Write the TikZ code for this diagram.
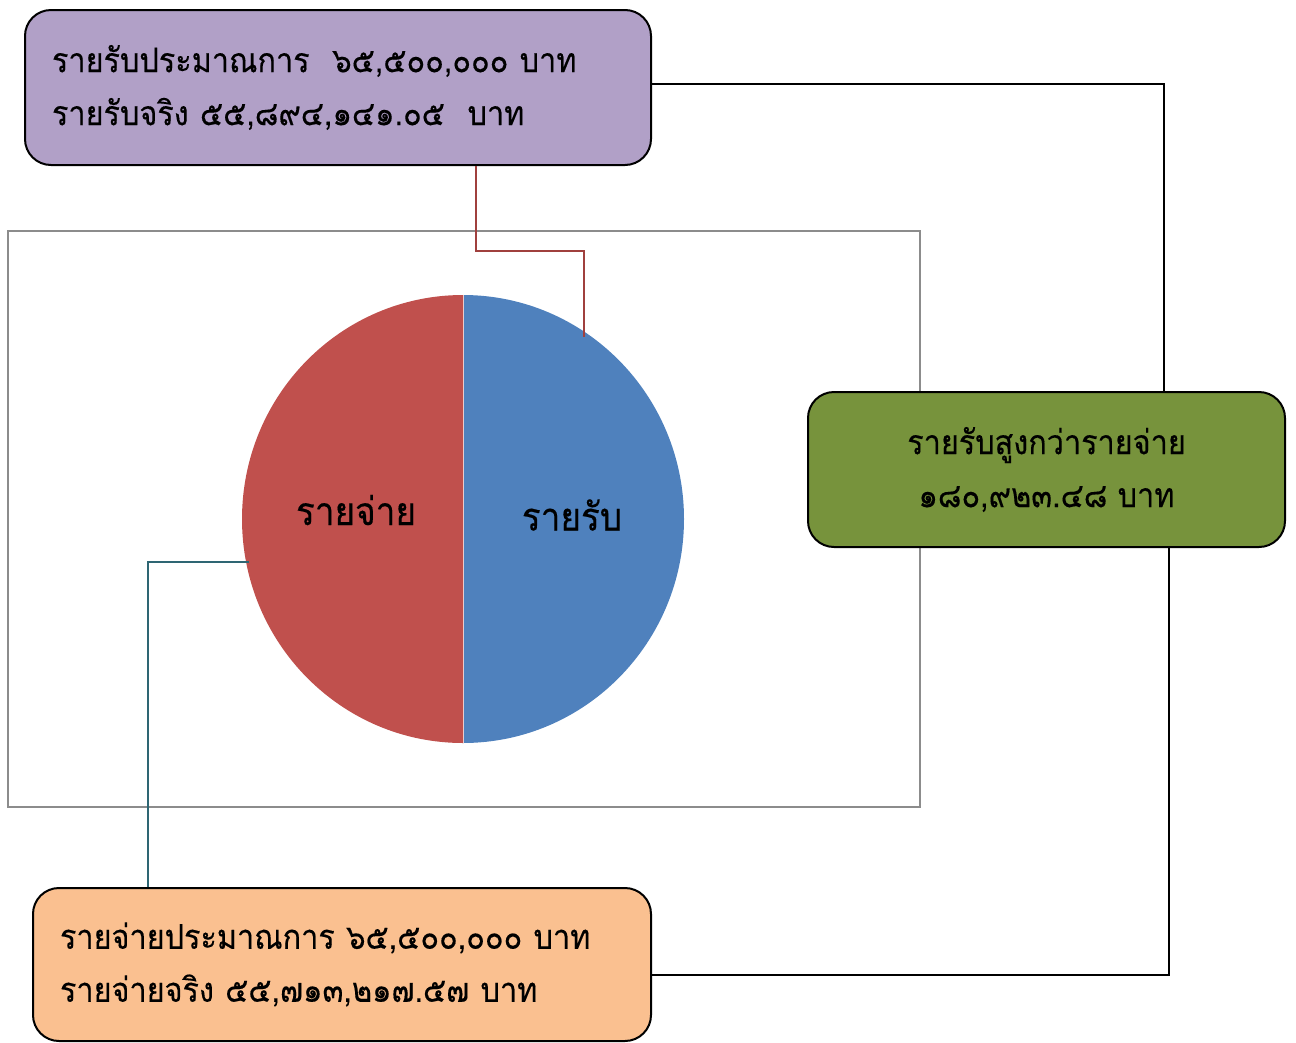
\documentclass[tikz,border=0pt]{standalone}
\usepackage{fontspec}
\newfontfamily\thaifont[Script=Thai,FakeStretch=0.9,FakeBold=0.3]{Loma}
\usetikzlibrary{calc}
\definecolor{incomefill}{HTML}{B1A0C7}
\definecolor{surplusfill}{HTML}{77933C}
\definecolor{outgofill}{HTML}{FAC090}
\definecolor{piered}{HTML}{C0504D}
\definecolor{pieblue}{HTML}{4F81BD}
\definecolor{incomewire}{HTML}{A0403E}
\definecolor{outgowire}{HTML}{2E6673}
\definecolor{framegray}{HTML}{8C8C8C}
\begin{document}
\begin{tikzpicture}[x=1pt,y=1pt]
\newcommand{\thaisize}{\fontsize{34}{53}\selectfont}
\tikzstyle{infobox}= [draw=black, line width=2pt, rounded corners=26pt, inner sep=0pt,
  font=\thaifont\thaisize];
\tikzstyle{wire}= [line width=1.8pt];
\useasboundingbox (0,0) rectangle (1296,-1042);

  % chart area
  \draw[framegray,line width=2pt] (8,-231) rectangle (920,-807);
  \fill[piered] (463,-519) -- (463,-295) arc[start angle=90,end angle=270,x radius=221,y radius=224] -- cycle;
  \fill[pieblue] (463,-519) -- (463,-743) arc[start angle=-90,end angle=90,x radius=221,y radius=224] -- cycle;
  \draw[white!70!piered,line width=0.6pt] (463,-295) -- (463,-743);
  \node(expenselabel)[font=\thaifont\fontsize{39}{40}\selectfont] at (356,-510) {รายจ่าย};
  \node(incomelabel)[font=\thaifont\fontsize{39}{40}\selectfont] at (572,-515) {รายรับ};
  \coordinate(incomeedge) at (584,-337);
  \coordinate(expenseedge) at (249,-562);

  % boxes
  \node(income)[infobox,fill=incomefill,minimum width=626,minimum height=155,
    text width=572,align=left] at (338,-87.5)
    {รายรับประมาณการ~ ๖๕,๕๐๐,๐๐๐ บาท\\รายรับจริง ๕๕,๘๙๔,๑๔๑.๐๕~ บาท};
  \node(surplus)[infobox,fill=surplusfill,minimum width=477,minimum height=155,
    align=center] at (1046.5,-469.5)
    {รายรับสูงกว่ารายจ่าย\\๑๘๐,๙๒๓.๔๘ บาท};
  \node(outgo)[infobox,fill=outgofill,minimum width=618,minimum height=153,
    text width=564,align=left] at (342,-964.5)
    {รายจ่ายประมาณการ ๖๕,๕๐๐,๐๐๐ บาท\\รายจ่ายจริง ๕๕,๗๑๓,๒๑๗.๕๗ บาท};

  % connectors
  \draw[wire,incomewire] ($(income.south)+(138,0)$) |- ($(incomeedge)+(0,86)$) -- (incomeedge);
  \draw[wire,outgowire] (expenseedge) -| ($(outgo.north)+(-194,0)$);
  \draw[wire] ($(income.east)+(0,3.5)$) -| ($(surplus.north)+(117.5,0)$);
  \draw[wire] ($(surplus.south)+(122.5,0)$) |- ($(outgo.east)+(0,-10.5)$);
\end{tikzpicture}
\end{document}
